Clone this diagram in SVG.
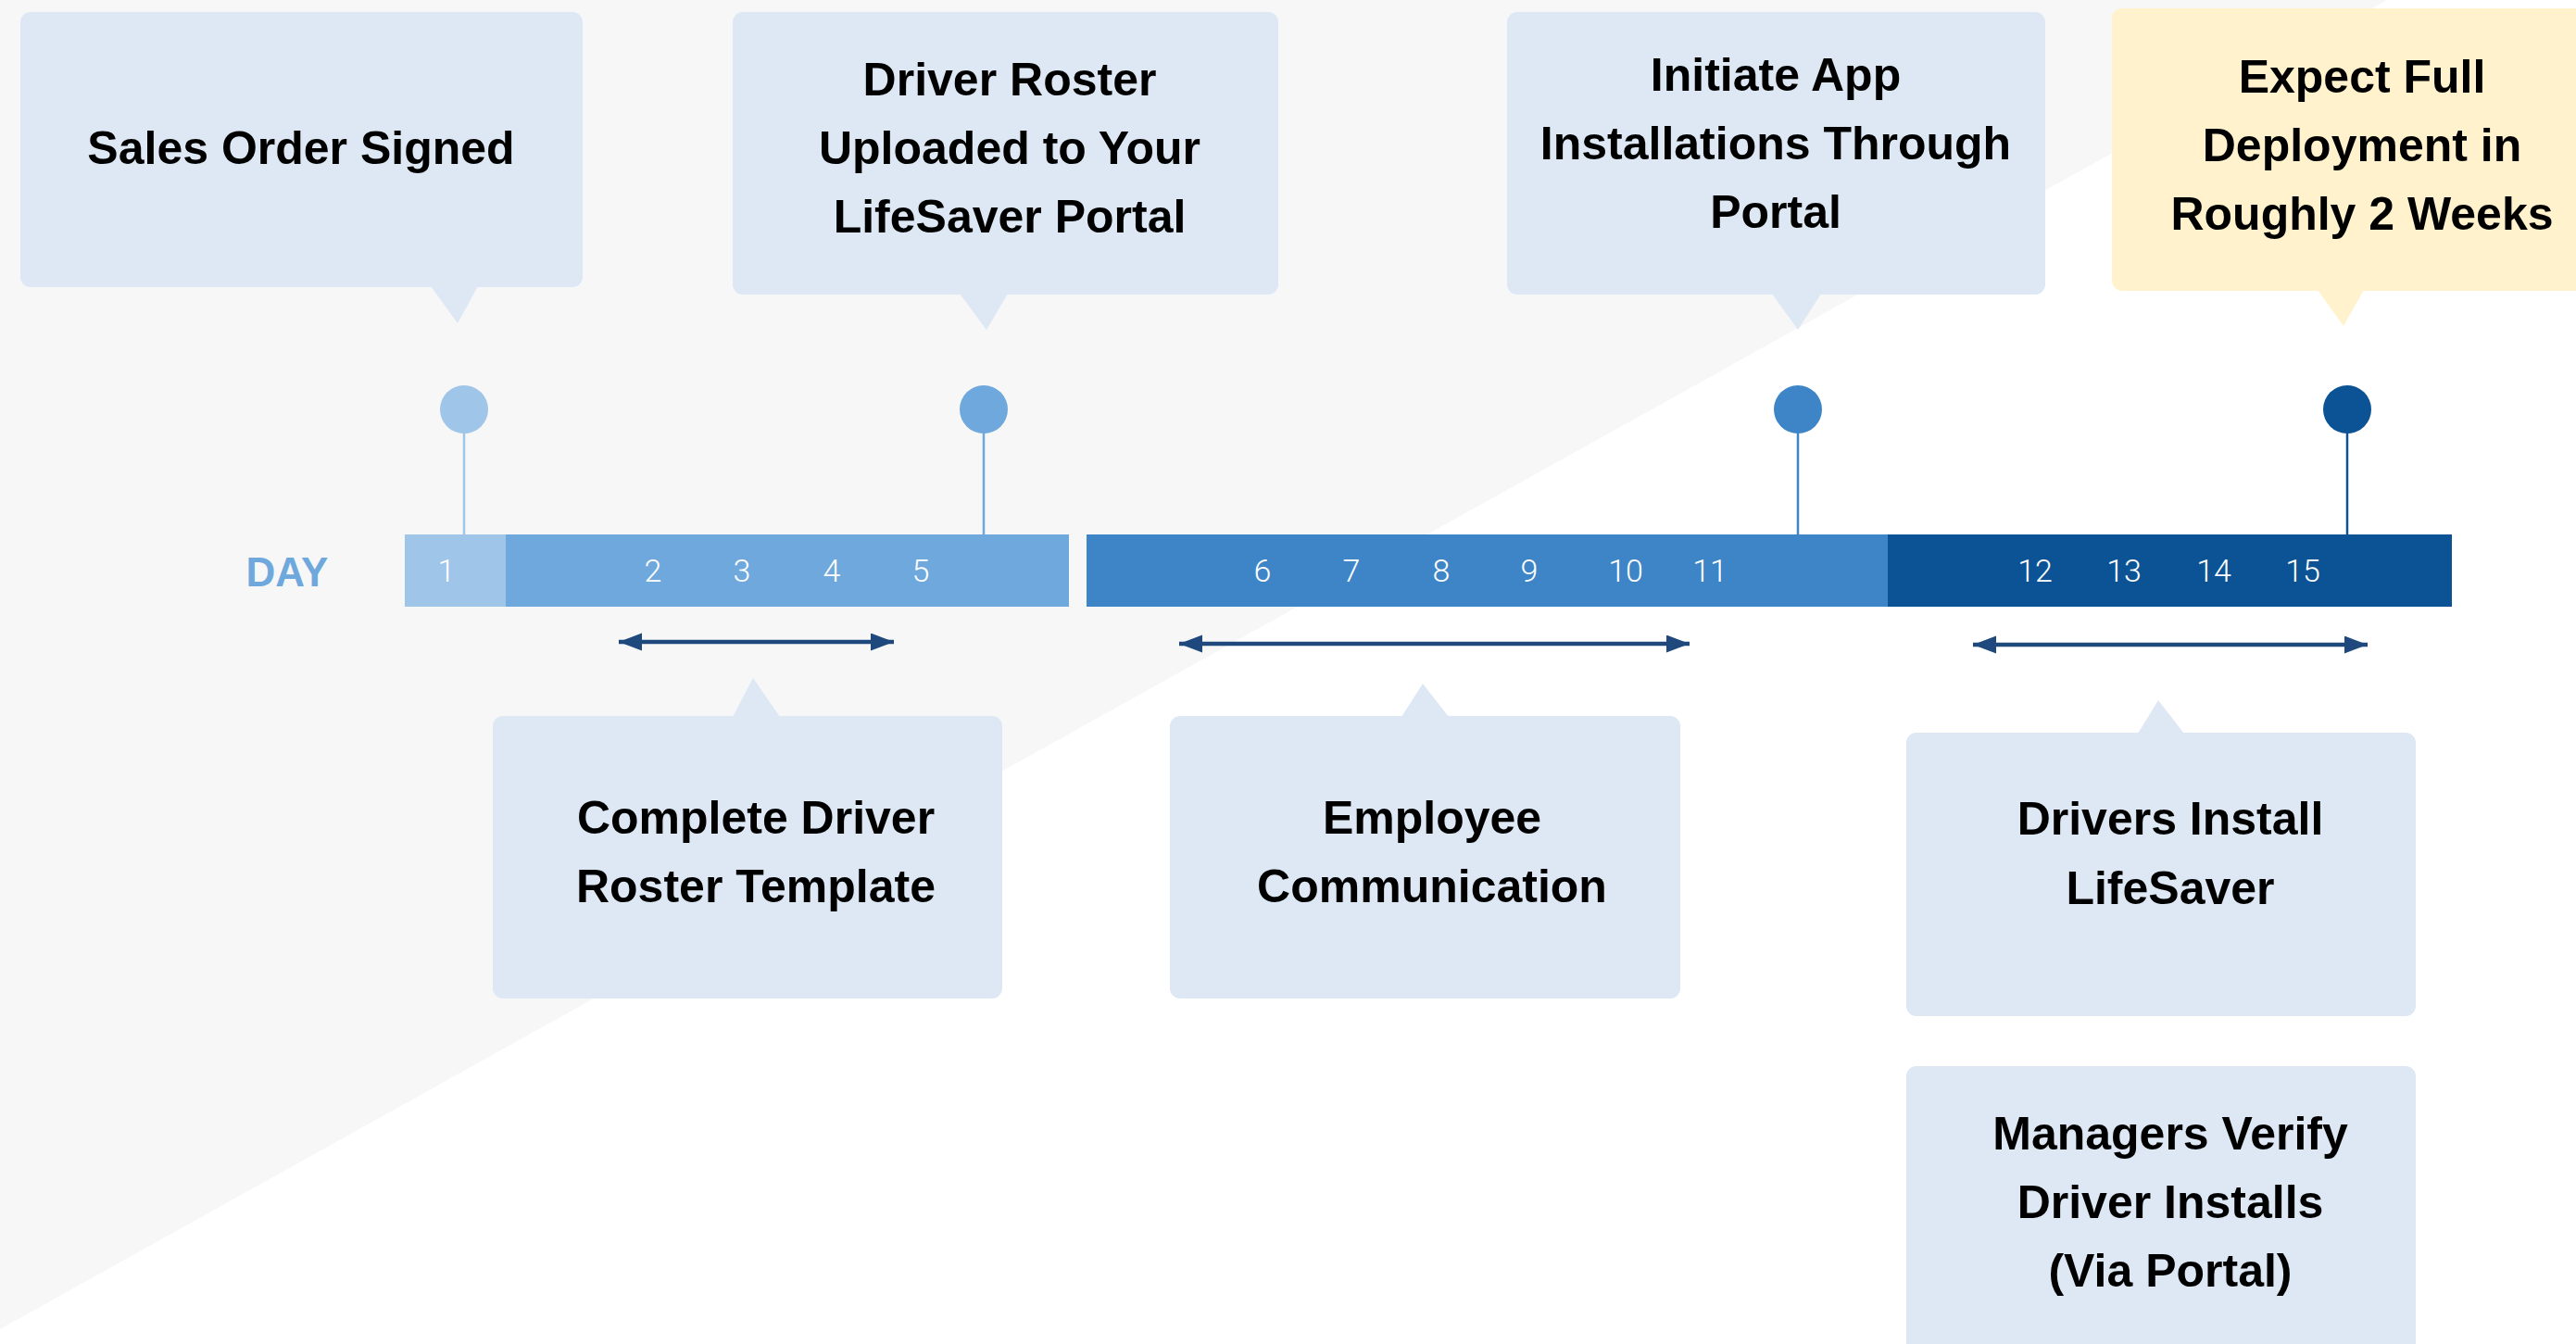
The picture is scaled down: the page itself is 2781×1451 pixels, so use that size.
<svg xmlns="http://www.w3.org/2000/svg" width="2781" height="1451" viewBox="0 0 2781 1451">
<style>
.box{fill:#dde8f4}
.ybox{fill:#fff2cc}
.lbl{font-family:"Liberation Sans",Arial,sans-serif;font-weight:700;font-size:50px;fill:#000;text-anchor:middle}
.day{font-family:Roboto,"Liberation Sans",sans-serif;font-weight:300;font-size:34px;fill:#fff;text-anchor:middle}
.arrow{stroke:#1f497d;stroke-width:4.5;fill:none;marker-start:url(#ah);marker-end:url(#ah)}
.stem{stroke-width:2.5}
</style>
<defs>
<marker id="ah" markerUnits="userSpaceOnUse" markerWidth="26" markerHeight="20" refX="25" refY="9.5" orient="auto-start-reverse">
<path d="M0,0 L25,9.5 L0,19 z" fill="#1f497d"/>
</marker>
</defs>
<rect width="2781" height="1451" fill="#ffffff"/>
<polygon points="0,0 2577,0 0,1435" fill="#f7f7f7"/>

<g id="connectors">
<line class="stem" x1="501" y1="450" x2="501" y2="577" stroke="#9fc5e8"/>
<line class="stem" x1="1062" y1="450" x2="1062" y2="577" stroke="#6fa8dc"/>
<line class="stem" x1="1941" y1="450" x2="1941" y2="577" stroke="#3d85c6"/>
<line class="stem" x1="2534" y1="450" x2="2534" y2="577" stroke="#0b5394"/>
<line class="arrow" x1="668" y1="693" x2="965" y2="693"/>
<line class="arrow" x1="1273" y1="695" x2="1824" y2="695"/>
<line class="arrow" x1="2130" y1="696" x2="2556" y2="696"/>
</g>

<g id="timeline">
<text x="310" y="633" font-family="'Liberation Sans',Arial,sans-serif" font-weight="700" font-size="44" fill="#6fa8dc" text-anchor="middle">DAY</text>
<rect x="437" y="577" width="109" height="78" fill="#9fc5e8"/>
<rect x="546" y="577" width="608" height="78" fill="#6fa8dc"/>
<rect x="1173" y="577" width="865" height="78" fill="#3d85c6"/>
<rect x="2038" y="577" width="609" height="78" fill="#0b5394"/>
<text class="day" x="482" y="628">1</text>
<text class="day" x="705" y="628">2</text>
<text class="day" x="801" y="628">3</text>
<text class="day" x="898" y="628">4</text>
<text class="day" x="994" y="628">5</text>
<text class="day" x="1363" y="628">6</text>
<text class="day" x="1459" y="628">7</text>
<text class="day" x="1556" y="628">8</text>
<text class="day" x="1651" y="628">9</text>
<text class="day" x="1755" y="628">10</text>
<text class="day" x="1846" y="628">11</text>
<text class="day" x="2197" y="628">12</text>
<text class="day" x="2293" y="628">13</text>
<text class="day" x="2390" y="628">14</text>
<text class="day" x="2486" y="628">15</text>
<circle cx="501" cy="442" r="26" fill="#9fc5e8"/>
<circle cx="1062" cy="442" r="26" fill="#6fa8dc"/>
<circle cx="1941" cy="442" r="26" fill="#3d85c6"/>
<circle cx="2534" cy="442" r="26" fill="#0b5394"/>
</g>

<g id="node-sales-order">
<rect class="box" x="22" y="13" width="607" height="297" rx="11"/>
<polygon class="box" points="465,309 516,309 494,349"/>
<text class="lbl" x="325" y="177">Sales Order Signed</text>
</g>

<g id="node-roster-uploaded">
<rect class="box" x="791" y="13" width="589" height="305" rx="11"/>
<polygon class="box" points="1036,317 1088,317 1065,356"/>
<text class="lbl" x="1090" y="103">Driver Roster</text>
<text class="lbl" x="1090" y="177">Uploaded to Your</text>
<text class="lbl" x="1090" y="251">LifeSaver Portal</text>
</g>

<g id="node-initiate-install">
<rect class="box" x="1627" y="13" width="581" height="305" rx="11"/>
<polygon class="box" points="1913,317 1966,317 1941,356"/>
<text class="lbl" x="1917" y="98">Initiate App</text>
<text class="lbl" x="1917" y="172">Installations Through</text>
<text class="lbl" x="1917" y="246">Portal</text>
</g>

<g id="node-full-deployment">
<rect class="ybox" x="2280" y="9" width="560" height="305" rx="11"/>
<polygon class="ybox" points="2502,313 2552,313 2530,352"/>
<text class="lbl" x="2550" y="100">Expect Full</text>
<text class="lbl" x="2550" y="174">Deployment in</text>
<text class="lbl" x="2550" y="248">Roughly 2 Weeks</text>
</g>

<g id="node-roster-template">
<rect class="box" x="532" y="773" width="550" height="305" rx="11"/>
<polygon class="box" points="791,774 842,774 813,732"/>
<text class="lbl" x="816" y="900">Complete Driver</text>
<text class="lbl" x="816" y="974">Roster Template</text>
</g>

<g id="node-employee-comm">
<rect class="box" x="1263" y="773" width="551" height="305" rx="11"/>
<polygon class="box" points="1513,774 1564,774 1536,738"/>
<text class="lbl" x="1546" y="900">Employee</text>
<text class="lbl" x="1546" y="974">Communication</text>
</g>

<g id="node-drivers-install">
<rect class="box" x="2058" y="791" width="550" height="306" rx="11"/>
<polygon class="box" points="2308,792 2358,792 2330,756"/>
<text class="lbl" x="2343" y="901">Drivers Install</text>
<text class="lbl" x="2343" y="976">LifeSaver</text>
</g>

<g id="node-managers-verify">
<rect class="box" x="2058" y="1151" width="550" height="330" rx="11"/>
<text class="lbl" x="2343" y="1241">Managers Verify</text>
<text class="lbl" x="2343" y="1315">Driver Installs</text>
<text class="lbl" x="2343" y="1389">(Via Portal)</text>
</g>
</svg>
